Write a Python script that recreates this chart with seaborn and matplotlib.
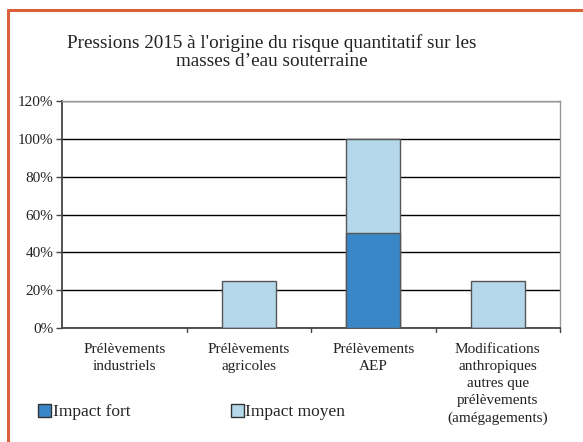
import numpy as np
import pandas as pd
import matplotlib
matplotlib.use("Agg")
import matplotlib.pyplot as plt
import seaborn as sns
from matplotlib.lines import Line2D
from matplotlib.patches import Patch

categories = ["Prélèvements\nindustriels", "Prélèvements\nagricoles", "Prélèvements\nAEP",
              "Modifications\nanthropiques\nautres que\nprélèvements\n(amégagements)"]
impact_fort = [0, 0, 50, 0]
impact_moyen = [0, 25, 50, 25]
y_ticks = [0, 20, 40, 60, 80, 100, 120]

df = pd.DataFrame({"cat": categories, "fort": impact_fort, "moyen": impact_moyen})
df["total"] = df["fort"] + df["moyen"]

sns.set_style("white")
plt.rcParams["font.family"] = ["Liberation Serif", "DejaVu Serif"]

fig = plt.figure(figsize=(5.83, 4.42), dpi=100)
ax = fig.add_axes([62 / 583, 1 - 328 / 442, (560 - 62) / 583, (328 - 101) / 442])

dark = "#3a87c8"
light = "#b4d7ea"
sns.barplot(data=df, x="cat", y="total", color=light, width=0.43,
            edgecolor="#555555", linewidth=1, saturation=1, ax=ax, zorder=3)
sns.barplot(data=df, x="cat", y="fort", color=dark, width=0.43,
            edgecolor="#555555", linewidth=1, saturation=1, ax=ax, zorder=4)

ax.set_ylim(0, 120)
ax.set_xlim(-0.5, 3.5)
ax.set_yticks(y_ticks)
ax.set_yticklabels([f"{v}%" for v in y_ticks], fontsize=11, color="#222222")
ax.set_xticks(range(4))
ax.set_xticklabels(categories, fontsize=11, color="#222222")
for t in ax.get_xticklabels():
    t.set_linespacing(1.4)
ax.tick_params(axis="x", length=0, pad=11)
ax.tick_params(axis="y", length=4, width=1, color="#444444", direction="out", left=True, pad=2)
for b in [0.5, 1.5, 2.5, 3.5]:
    ax.plot([b, b], [0, -2.2], color="#444444", lw=1, clip_on=False, zorder=5)
ax.set_xlabel("")
ax.set_ylabel("")
ax.grid(axis="y", color="black", lw=1, zorder=0)
ax.set_axisbelow(True)
for s in ["left", "bottom"]:
    ax.spines[s].set_color("#444444")
    ax.spines[s].set_linewidth(1.3)
for s in ["top", "right"]:
    ax.spines[s].set_color("#999999")
    ax.spines[s].set_linewidth(1)

fig.text(0.466, 1 - 52 / 442,
         "Pressions 2015 à l'origine du risque quantitatif sur les\nmasses d\u2019eau souterraine",
         ha="center", va="center", fontsize=13.8, color="#222222", linespacing=1.12)

handles = [Patch(facecolor=dark, edgecolor="#333333", label="Impact fort"),
           Patch(facecolor=light, edgecolor="#333333", label="Impact moyen")]
fig.legend(handles=handles, loc="center left", bbox_to_anchor=(0.066, 1 - 412 / 442), ncol=2,
           frameon=False, fontsize=12.5, handlelength=0.75, handleheight=0.75,
           handletextpad=0.1, columnspacing=5.75, borderaxespad=0, borderpad=0)

# orange frame
fig.add_artist(Line2D([8 / 583, 1], [1 - 10 / 442, 1 - 10 / 442], color="#d9613a", lw=2.2))
fig.add_artist(Line2D([8 / 583, 8 / 583], [0, 1 - 10 / 442], color="#d9613a", lw=2.2))

fig.savefig("out.png", dpi=100, facecolor="white")
